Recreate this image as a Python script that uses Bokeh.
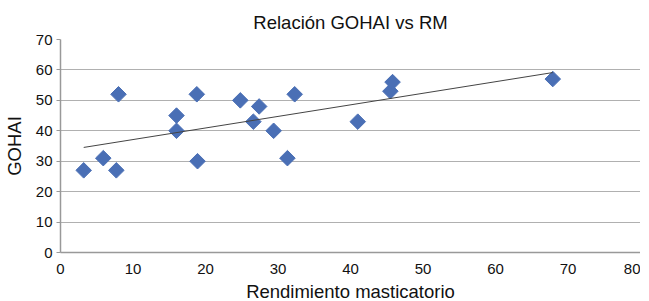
import numpy as np
from bokeh.plotting import figure
from bokeh.models import Range1d, FixedTicker, ColumnDataSource
from bokeh.embed import file_html
from bokeh.resources import INLINE

rm = [3.2, 5.9, 7.7, 8.0, 16.0, 16.0, 18.8, 18.9, 24.8, 26.6, 27.4, 29.4, 31.3, 32.3, 41.0, 45.5, 45.8, 67.9]
gohai = [27, 31, 27, 52, 45, 40, 52, 30, 50, 43, 48, 40, 31, 52, 43, 53, 56, 57]
x_ticks = [0, 10, 20, 30, 40, 50, 60, 70, 80]
y_ticks = [0, 10, 20, 30, 40, 50, 60, 70]

FONT = "Liberation Sans"

p = figure(frame_width=580, frame_height=213, output_backend="svg", toolbar_location=None,
           x_range=Range1d(0, 80), y_range=Range1d(0, 70),
           min_border_left=53, min_border_right=0, min_border_top=39, min_border_bottom=41)
p.title.text = "Relación GOHAI vs RM"
p.title.align = "center"
p.title.vertical_align = "top"
p.title.text_font = FONT
p.title.text_font_size = "18.5px"
p.title.text_font_style = "normal"
p.title.text_color = "#111111"

p.xaxis.ticker = FixedTicker(ticks=x_ticks)
p.yaxis.ticker = FixedTicker(ticks=y_ticks)
p.xaxis.axis_label = "Rendimiento masticatorio"
p.yaxis.axis_label = "GOHAI"
for ax in (p.xaxis, p.yaxis):
    ax.axis_label_text_font = FONT
    ax.axis_label_text_font_size = "18.5px"
    ax.axis_label_text_font_style = "normal"
    ax.axis_label_text_color = "#111111"
    ax.major_label_text_font = FONT
    ax.major_label_text_font_size = "15px"
    ax.major_label_text_color = "#111111"
    ax.axis_line_color = "#999999"
    ax.axis_line_width = 1.5
    ax.major_tick_line_color = None
    ax.minor_tick_line_color = None
p.yaxis.major_tick_line_color = "#999999"
p.yaxis.major_tick_out = 4
p.yaxis.major_tick_in = 0
p.xaxis.major_label_standoff = 5
p.yaxis.major_label_standoff = 4
p.xaxis.axis_label_standoff = 4
p.yaxis.axis_label_standoff = 8

p.xgrid.grid_line_color = None
p.ygrid.grid_line_color = "#b0b0b0"
p.ygrid.grid_line_width = 1.2
p.outline_line_color = None

src = ColumnDataSource(dict(x=rm, y=gohai))
p.scatter("x", "y", source=src, marker="square", angle=np.pi / 4, size=11,
          fill_color="#4A6FB5", line_color="#4A6FB5")

m, b = np.polyfit(rm, gohai, 1)
xs = [min(rm), max(rm)]
p.line(xs, [m * v + b for v in xs], line_color="#444444", line_width=1)

open("out.html", "w").write(file_html(p, INLINE))
